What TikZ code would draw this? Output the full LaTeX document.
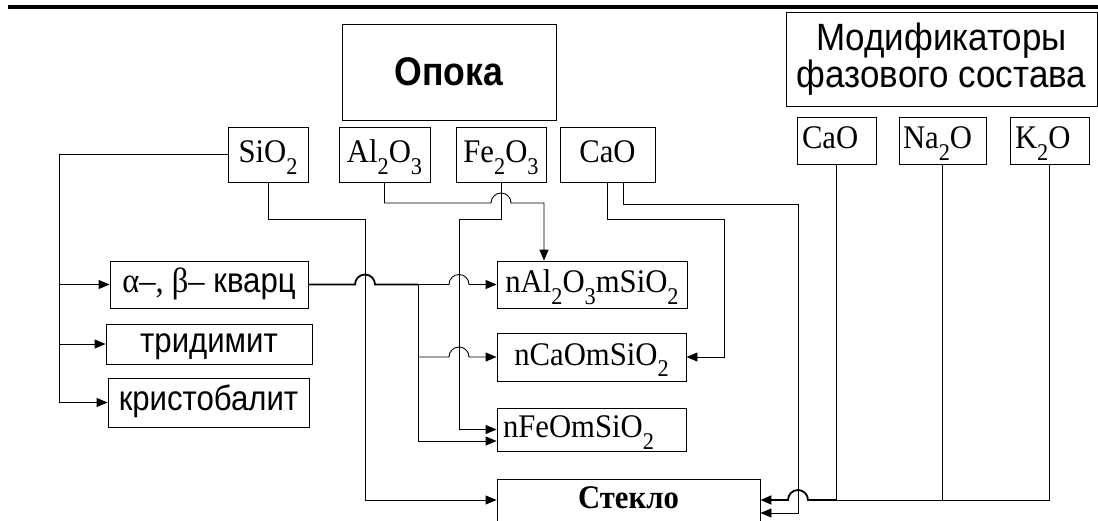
\documentclass[tikz,border=0pt]{standalone}
\usepackage{fontspec}
\setmainfont[FakeStretch=0.93]{Liberation Serif}
\newfontfamily\arialf[FakeStretch=0.89]{Liberation Sans}
\newfontfamily\arialw[FakeStretch=0.92]{Liberation Sans}
\usetikzlibrary{arrows.meta, calc, positioning}
\newcommand{\lowtxt}[1]{\raisebox{-0.36em}{\fontsize{24}{26}\selectfont #1}}

\begin{document}
\begin{tikzpicture}[
    x=1pt, y=-1pt,
    block/.style={draw, line width=0.9pt, inner sep=0pt},
    chem/.style={block, font=\fontsize{33}{38}\selectfont, text height=24pt, text depth=8pt},
    word/.style={block, font=\arialf\fontsize{35}{38}\selectfont, text height=24pt, text depth=8pt},
    arrow/.style={-{Triangle[length=11pt, width=9pt]}, line width=0.9pt},
    link/.style={line width=0.9pt},
    bold line/.style={line width=1.8pt}
]
    \useasboundingbox (0,0) rectangle (1098,520);
    \draw [line width=3.5pt] (8,7) -- (1098,7);

    \node [block, font=\arialf\bfseries\fontsize{40}{44}\selectfont, minimum width=214pt, minimum height=96pt] (opoka) at (449,72) {Опока};
    \node [block, align=center, font=\arialw\fontsize{38}{35}\selectfont, minimum width=311pt, minimum height=94pt] (modif) at (941.5,59) {Модификаторы\\фазового состава};

    \node [chem, minimum width=80pt, minimum height=55pt] (sio) at (268,154.5) {SiO\lowtxt{2}};
    \node [chem, minimum width=91pt, minimum height=55pt] (alo) at (384.5,154.5) {Al\lowtxt{2}O\lowtxt{3}};
    \node [chem, minimum width=90pt, minimum height=55pt] (feo) at (501,154.5) {Fe\lowtxt{2}O\lowtxt{3}};
    \node [chem, minimum width=95pt, minimum height=55pt] (cao) at (607.5,154.5) {CaO};

    \node [chem, text width=69pt, align=left, minimum width=79pt, minimum height=47pt] (mcao) at (836.5,140.5) {CaO};
    \node [chem, text width=79pt, align=left, minimum width=87pt, minimum height=47pt] (mnao) at (942.5,140.5) {Na\lowtxt{2}O};
    \node [chem, text width=69pt, align=left, minimum width=79pt, minimum height=47pt] (mko) at (1049.5,140.5) {K\lowtxt{2}O};

    \node [word, minimum width=198pt, minimum height=47pt] (quartz) at (209,284.5) {{\rmfamily α–, β–} кварц};
    \node [word, minimum width=206pt, minimum height=40pt] (trid) at (209,344) {тридимит};
    \node [word, minimum width=201pt, minimum height=49pt] (krist) at (208.5,402.5) {кристобалит};

    \node [chem, minimum width=190pt, minimum height=47pt] (nal) at (592,284.5) {nAl\lowtxt{2}O\lowtxt{3}mSiO\lowtxt{2}};
    \node [chem, minimum width=189pt, minimum height=48pt] (nca) at (591.5,357) {nCaOmSiO\lowtxt{2}};
    \node [chem, text width=177pt, align=left, minimum width=189pt, minimum height=43pt] (nfe) at (591.5,429.5) {nFeOmSiO\lowtxt{2}};
    \node [chem, font=\bfseries\fontsize{33}{38}\selectfont, minimum width=263pt, minimum height=42pt] (glass) at (628.5,500) {Стекло};

    % SiO2 -> polymorphs
    \coordinate (lbus) at (59,154.5);
    \draw [arrow] (sio.west) -- (lbus) |- (krist.west);
    \draw [arrow] (lbus |- quartz.west) -- (quartz.west);
    \draw [arrow] (lbus |- trid.west) -- (trid.west);

    % SiO2 -> glass
    \draw [arrow] (sio.south) |- (365,219) |- (glass.west);

    % quartz -> silicates
    \coordinate (qsplit) at (418,284.5);
    \draw [bold line] (quartz.east) -- (355,284.5) arc[start angle=180, end angle=0, radius=10pt] -- (qsplit);
    \draw [arrow] (qsplit) -- (449,284.5) arc[start angle=180, end angle=0, radius=10pt] -- (nal.west);
    \draw [arrow] (qsplit) |- ($(nfe.west)+(0,11.5)$);
    \draw [arrow] (qsplit |- nca.west) -- (449,357) arc[start angle=180, end angle=0, radius=10pt] -- (nca.west);

    % Al2O3, Fe2O3
    \coordinate (albend) at (544,203);
    \draw [arrow] (alo.south) |- (491,203) arc[start angle=180, end angle=0, radius=10pt] -- (albend) -- (albend |- nal.north);
    \draw [arrow] (feo.south) |- (459,219) |- (nfe.west);

    % CaO
    \draw [arrow] (cao.south) |- (724,219) |- (nca.east);
    \draw [arrow] ([xshift=15.5pt]cao.south) |- (798,204) |- ($(glass.east)+(0,13)$);

    % modifiers -> glass
    \draw [link] (mko.south) |- (mcao.south |- glass.east);
    \draw [arrow, bold line] (mcao.south |- glass.east) -- (808,500) arc[start angle=0, end angle=180, radius=10pt] -- (glass.east);
    \draw [link] (mcao.south) -- (mcao.south |- glass.east);
    \draw [link] (mnao.south) -- (mnao.south |- glass.east);
\end{tikzpicture}
\end{document}
